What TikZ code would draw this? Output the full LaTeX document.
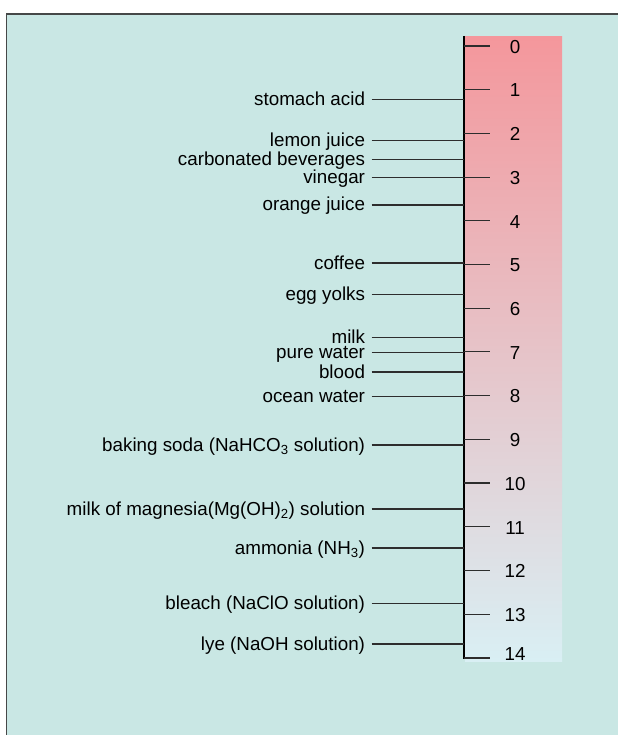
\documentclass[tikz,border=0pt]{standalone}
\usepackage{fontspec}
\setmainfont{Liberation Sans}
\definecolor{bgteal}{RGB}{201,231,228}
\definecolor{frameg}{RGB}{70,72,72}
\definecolor{phtop}{RGB}{244,151,156}
\definecolor{phmid}{RGB}{231,213,217}
\definecolor{phbot}{RGB}{217,239,244}
\definecolor{leadc}{RGB}{45,45,45}
\tikzset{
  lab/.style={anchor=base east, inner xsep=6.7pt, inner ysep=0pt, outer sep=0pt,
    font=\fontsize{18.8}{22}\selectfont, text=black},
  num/.style={anchor=base, inner sep=0pt, font=\fontsize{18.8}{22}\selectfont, text=black},
  leader/.style={draw=leadc, line width=1.1pt},
  tick/.style={draw=leadc, line width=1.1pt},
}
\begin{document}
\begin{tikzpicture}[x=1pt,y=-1pt]
\useasboundingbox (0,0) rectangle (618,735);
\fill[white] (0,0) rectangle (618,735);
\fill[bgteal] (6.5,14) rectangle (618,735);
\draw[frameg, line width=1.6pt] (6.5,735) -- (6.5,14) -- (618,14);
% pH bar
\shade[top color=phtop, middle color=phmid, bottom color=phbot] (465,36.5) rectangle (562,661);
% axis
\coordinate (axtop) at (464.3,36);
\coordinate (axbot) at (464.3,658.5);
\draw[black, line width=2pt] (axtop) -- (axbot);
% ticks and numbers
\foreach \k in {0,...,13}{
  \coordinate (t\k) at (464.3,{46+43.7*\k});
  \draw[tick] (t\k) -- ++(25.7,0);
  \node[num] (n\k) at (515,{46+43.7*\k+7.3}) {\k};
}
\coordinate (t14) at (464.3,658);
\draw[tick] (t14) -- ++(25.7,0);
\node[num] (n14) at (515,660) {14};
% labels
\foreach \i/\y/\t in {
  1/99.3/{stomach acid},
  2/140.5/{lemon juice},
  3/159.5/{carbonated beverages},
  4/177.5/{vinegar},
  5/205/{orange juice},
  6/263/{coffee},
  7/294.5/{egg yolks},
  8/337.7/{milk},
  9/352.3/{pure water},
  10/372/{blood},
  11/396.5/{ocean water},
  12/445/{baking soda (NaHCO\textsubscript{3} solution)},
  13/509/{milk of magnesia(Mg(OH)\textsubscript{2}) solution},
  14/548/{ammonia (NH\textsubscript{3})},
  15/603.5/{bleach (NaClO solution)},
  16/644/{lye (NaOH solution)}}{
  \coordinate (a\i) at (464.3,\y);
  \node[lab] (l\i) at (371.7,\y+6) {\t};
  \draw[leader] (l\i.east |- a\i) -- (a\i);
}
\end{tikzpicture}
\end{document}
